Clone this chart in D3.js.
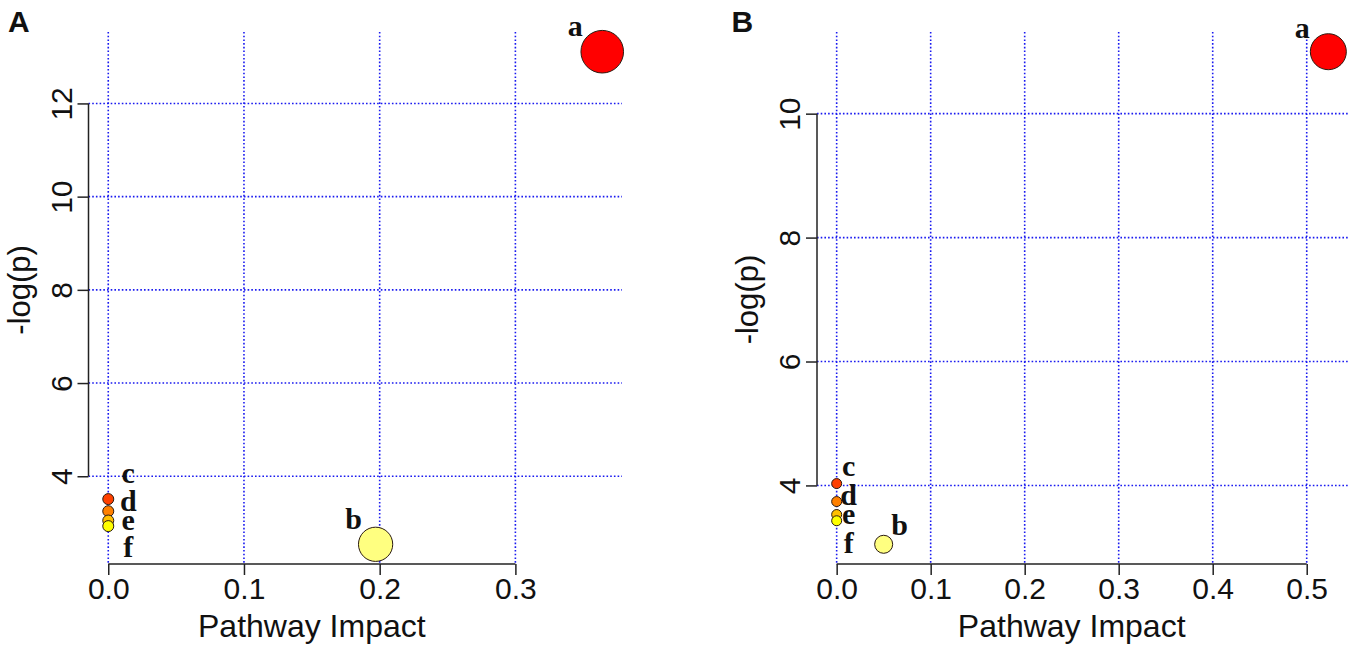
<!DOCTYPE html>
<html>
<head>
<meta charset="utf-8">
<title>Pathway Impact Bubble Plots</title>
<script src="https://d3js.org/d3.v7.min.js"></script>
<style>
  body { margin: 0; background: #ffffff; }
  .grid line { stroke: #1a1af0; stroke-width: 1.6; stroke-dasharray: 1.6,2.1; }
  .pt-label { font-family: 'Liberation Serif', 'Times New Roman', serif; font-weight: bold; fill: #111; }
  .title { font-family: 'Liberation Sans', Arial, sans-serif; fill: #111; }
</style>
</head>
<body>
<div id="chart"></div>
<script>
// pathway labels shared by both panels
const pathways = ["a", "b", "c", "d", "e", "f"];

// panel A
const impactA = [0.364, 0.197, 0, 0, 0, 0];
const logpA   = [13.11, 2.54, 3.51, 3.25, 3.05, 2.93];
const xTicksA = [0, 0.1, 0.2, 0.3];
const yTicksA = [4, 6, 8, 10, 12];

// panel B
const impactB = [0.523, 0.05, 0, 0, 0, 0];
const logpB   = [11.0, 3.05, 4.03, 3.74, 3.53, 3.43];
const xTicksB = [0, 0.1, 0.2, 0.3, 0.4, 0.5];
const yTicksB = [4, 6, 8, 10];

const xTitle = "Pathway Impact";
const yTitle = "-log(p)";

const W = 1350, H = 648;
const plotTop = 32, plotBottom = 564;

const panels = [
    {letter: "A", impact: impactA, logp: logpA, xTicks: xTicksA, yTicks: yTicksA,
     left: 88.5, right: 622, rMin: 5.5, rMax: 21.3, letterX: 8,
     labelDx: [-27, -22, 20, 20, 20, 20], labelDy: [-16, -15.5, -16, 0, 9, 31]},
    {letter: "B", impact: impactB, logp: logpB, xTicks: xTicksB, yTicks: yTicksB,
     left: 817, right: 1348, rMin: 5, rMax: 18, letterX: 731.5,
     labelDx: [-26, 16, 12, 12, 12, 12], labelDy: [-14, -9, -8, 3, 9, 32]}
];

// R style heat.colors(n): red -> yellow, then pale yellow
function heatColors(n) {
    const j = Math.floor(n / 4), i = n - j;
    const out = [];
    for (let k = 0; k < i; k++) {
        const h = i > 1 ? (k / (i - 1)) * 60 : 0;
        out.push(d3.hsl(h, 1, 0.5).formatHex());
    }
    for (let k = 0; k < j; k++) {
        const s = j === 1 ? 0.5 : (1 - 1 / (2 * j)) - k * ((1 - 1 / j) / (j - 1));
        out.push(d3.hsl(60, 1, 1 - s / 2).formatHex());
    }
    return out;
}

// 4% padding like R's default axis range
function padExtent(vals) {
    const lo = d3.min(vals), hi = d3.max(vals), d = (hi - lo) * 0.04;
    return [lo - d, hi + d];
}

const svg = d3.select("#chart").append("svg")
    .attr("width", W)
    .attr("height", H)
    .style("background", "#ffffff");

const axisColor = "#222";
const sansFont = "'Liberation Sans', Arial, sans-serif";

panels.forEach(function(p) {
    const g = svg.append("g");

    const x = d3.scaleLinear().domain(padExtent(p.impact)).range([p.left, p.right]);
    const y = d3.scaleLinear().domain(padExtent(p.logp)).range([plotBottom, plotTop]);
    const r = d3.scaleSqrt().domain([0, d3.max(p.impact)]).range([p.rMin, p.rMax]);

    const heat = heatColors(pathways.length);
    const order = d3.range(p.logp.length).sort((a, b) => p.logp[b] - p.logp[a]);
    const colorOf = [];
    order.forEach((idx, rank) => colorOf[idx] = heat[rank]);

    // grid
    const grid = g.append("g").attr("class", "grid");
    grid.selectAll(".vg").data(p.xTicks).enter().append("line")
        .attr("x1", d => x(d)).attr("x2", d => x(d))
        .attr("y1", plotTop).attr("y2", plotBottom);
    grid.selectAll(".hg").data(p.yTicks).enter().append("line")
        .attr("x1", p.left).attr("x2", p.right)
        .attr("y1", d => y(d)).attr("y2", d => y(d));

    // x axis
    const xa = g.append("g")
        .attr("transform", "translate(0," + plotBottom + ")")
        .call(d3.axisBottom(x).tickValues(p.xTicks).tickFormat(d3.format(".1f")).tickSize(11).tickSizeOuter(0))
        .attr("color", axisColor)
        .attr("font-size", 30)
        .attr("font-family", sansFont);
    xa.select(".domain")
        .attr("d", "M" + x(p.xTicks[0]) + ",0H" + x(p.xTicks[p.xTicks.length - 1]))
        .attr("stroke-width", 1.5);
    xa.selectAll(".tick line").attr("stroke-width", 1.5);
    xa.selectAll(".tick text").attr("y", 35).attr("dy", 0).attr("fill", "#111");

    // y axis
    const ya = g.append("g")
        .attr("transform", "translate(" + p.left + ",0)")
        .call(d3.axisLeft(y).tickValues(p.yTicks).tickFormat(d3.format("d")).tickSize(11).tickSizeOuter(0))
        .attr("color", axisColor)
        .attr("font-size", 30)
        .attr("font-family", sansFont);
    ya.select(".domain")
        .attr("d", "M0," + y(p.yTicks[0]) + "V" + y(p.yTicks[p.yTicks.length - 1]))
        .attr("stroke-width", 1.5);
    ya.selectAll(".tick line").attr("stroke-width", 1.5);
    ya.selectAll(".tick text")
        .attr("x", 0).attr("dy", 0)
        .attr("text-anchor", "middle")
        .attr("transform", "translate(-17,0) rotate(-90)")
        .attr("fill", "#111");

    // axis titles
    g.append("text").attr("class", "title")
        .attr("x", (x(p.xTicks[0]) + x(p.xTicks[p.xTicks.length - 1])) / 2)
        .attr("y", 637)
        .attr("text-anchor", "middle")
        .attr("font-size", 32)
        .text(xTitle);
    g.append("text").attr("class", "title")
        .attr("transform", "translate(" + (p.left - 59) + "," + ((y(p.yTicks[0]) + y(p.yTicks[p.yTicks.length - 1])) / 2) + ") rotate(-90)")
        .attr("text-anchor", "middle")
        .attr("font-size", 31)
        .text(yTitle);

    // panel letter
    g.append("text").attr("class", "title")
        .attr("x", p.letterX).attr("y", 31.5)
        .attr("font-size", 30).attr("font-weight", "bold")
        .text(p.letter);

    // bubbles
    g.selectAll(".bubble").data(pathways).enter().append("circle")
        .attr("class", "bubble")
        .attr("cx", (d, i) => x(p.impact[i]))
        .attr("cy", (d, i) => y(p.logp[i]))
        .attr("r", (d, i) => r(p.impact[i]))
        .attr("fill", (d, i) => colorOf[i])
        .attr("stroke", "#2a1a10")
        .attr("stroke-width", 1);

    // labels
    g.selectAll(".pt-label").data(pathways).enter().append("text")
        .attr("class", "pt-label")
        .attr("x", (d, i) => x(p.impact[i]) + p.labelDx[i])
        .attr("y", (d, i) => y(p.logp[i]) + p.labelDy[i])
        .attr("text-anchor", "middle")
        .attr("font-size", 30)
        .text(d => d);
});
</script>
</body>
</html>
